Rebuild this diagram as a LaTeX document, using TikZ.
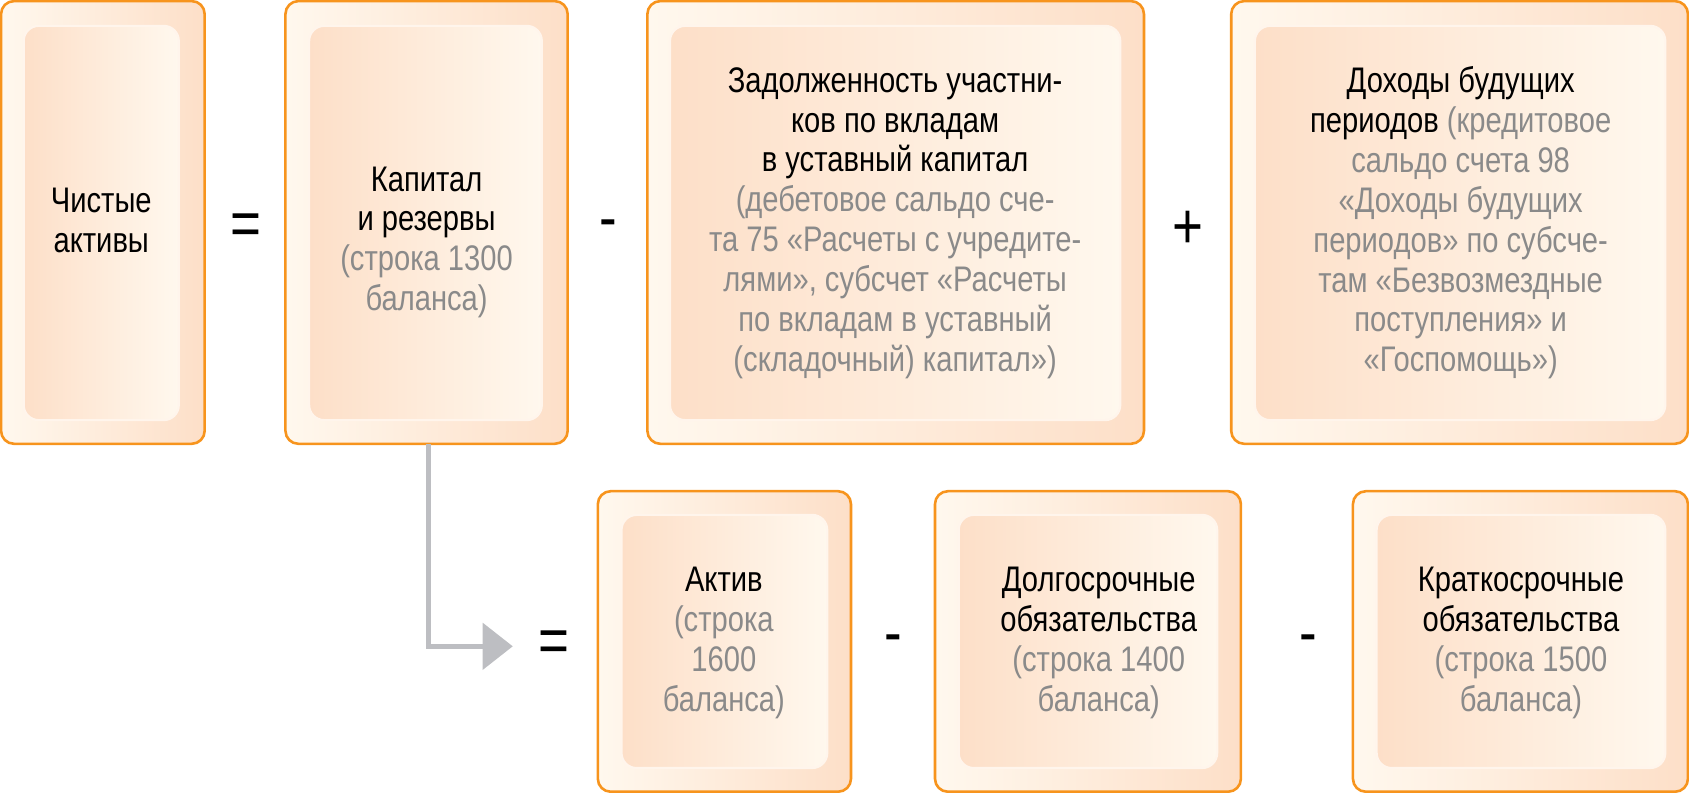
\documentclass[tikz,border=0pt]{standalone}
\usepackage{fontspec}
\setmainfont{Liberation Sans}[FakeStretch=0.82]
\definecolor{org}{HTML}{F7941D}
\definecolor{pl}{HTML}{FFF8EE}
\definecolor{pd}{HTML}{FDDFC8}
\definecolor{gt}{HTML}{8A8A8A}
\definecolor{ar}{HTML}{BDBEC2}
\tikzset{
 outer/.style={draw=org,line width=1.2pt,rounded corners=6pt,left color=pl,right color=pd},
 inner/.style={rounded corners=7pt,left color=pd,right color=pl,draw=pd!80!orange!20,line width=1pt},
 txt/.style={align=center,font=\fontsize{16.5}{18.5}\selectfont,text=black},
 op/.style={font=\fontsize{30}{30}\selectfont}
}
\newcommand{\g}[1]{\textcolor{gt}{#1}}
\begin{document}
\begin{tikzpicture}[x=0.5pt,y=-0.5pt]
\useasboundingbox (0,0) rectangle (1568,736);
% top row
\path[outer] (1,1) rectangle (190,412); \path[inner] (22,24) rectangle (166,390);
\path[outer] (265,1) rectangle (527,412); \path[inner] (287,24) rectangle (503,390);
\path[outer] (601,1) rectangle (1062,412); \path[inner] (622,24) rectangle (1040,390);
\path[outer] (1143,1) rectangle (1567,412); \path[inner] (1165,24) rectangle (1546,390);
% bottom row
\path[outer] (555,456) rectangle (790,735); \path[inner] (577,478) rectangle (768,713);
\path[outer] (868,456) rectangle (1152,735); \path[inner] (890,478) rectangle (1130,713);
\path[outer] (1256,456) rectangle (1567,735); \path[inner] (1278,478) rectangle (1546,713);
\node[txt] (a) at (94,205) {Чистые\\активы};
\node[txt] (b) at (396,225) {Капитал\\и резервы\\\g{(строка 1300}\\\g{баланса)}};
\node[txt] (c) at (831,207) {Задолженность участни-\\ков по вкладам\\в уставный капитал\\\g{(дебетовое сальдо сче-}\\\g{та 75 «Расчеты с учредите-}\\\g{лями», субсчет «Расчеты}\\\g{по вкладам в уставный}\\\g{(складочный) капитал»)}};
\node[txt] (d) at (1356,207) {Доходы будущих\\периодов \g{(кредитовое}\\\g{сальдо счета 98}\\\g{«Доходы будущих}\\\g{периодов» по субсче-}\\\g{там «Безвозмездные}\\\g{поступления» и}\\\g{«Госпомощь»)}};
\node[txt] (e) at (672,597) {Актив\\\g{(строка}\\\g{1600}\\\g{баланса)}};
\node[txt] (f) at (1020,597) {Долгосрочные\\обязательства\\\g{(строка 1400}\\\g{баланса)}};
\node[txt] (h) at (1412,597) {Краткосрочные\\обязательства\\\g{(строка 1500}\\\g{баланса)}};
\node[op] (o1) at (228,213) {=};
\node[op] (o2) at (565,213) {-};
\node[op] (o3) at (1103,213) {+};
\node[op] (o4) at (514,600) {=};
\node[op] (o5) at (829,598) {-};
\node[op] (o6) at (1215,598) {-};
\coordinate (s) at (398,412);
\coordinate (k) at (398,600);
\coordinate (t) at (450,600);
\draw[ar,line width=2.5pt] (s) -- (k) -- (t);
\fill[ar] (448,578) -- (476,600) -- (448,622) -- cycle;
\end{tikzpicture}
\end{document}
